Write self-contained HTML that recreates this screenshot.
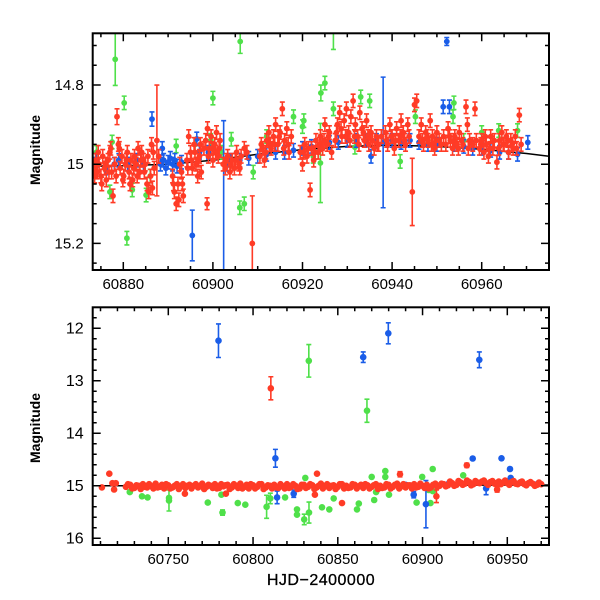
<!DOCTYPE html>
<html><head><meta charset="utf-8">
<style>
html,body{margin:0;padding:0;background:#fff;}
svg{display:block;}
text{font-family:"Liberation Sans",sans-serif;fill:#000;}
</style></head>
<body>
<svg id="chart" width="600" height="600" viewBox="0 0 600 600">
<defs>
<clipPath id="clipTop"><rect x="92.7" y="33.3" width="456.3" height="236.7"/></clipPath>
<clipPath id="clipBot"><rect x="92.7" y="307.3" width="456.3" height="237.7"/></clipPath>
</defs>
<g id="top"></g>
<g id="bot"></g>
<text x="40" y="150" transform="rotate(-90 40 150)" text-anchor="middle" font-size="14" font-weight="bold">Magnitude</text>
<text x="40" y="428" transform="rotate(-90 40 428)" text-anchor="middle" font-size="14" font-weight="bold">Magnitude</text>
<text x="321" y="585" text-anchor="middle" font-size="16" letter-spacing="0.5" stroke="#000" stroke-width="0.3">HJD−2400000</text>
</svg>
<script>
// ---------- DATA: top panel (zoom) ----------
const topRed = [[60873.4,15.01],[60873.8,14.99],[60874.2,15.02],[60874.6,15.0],[60875,15.03],[60875.4,14.98],[60875.8,15.01],[60876.2,15.04],[60876.6,14.99],[60877,14.97],[60877.4,15.02],[60877.7,15.08],[60878.1,15.0],[60878.6,14.88,0.02],[60878.9,14.95],[60879.3,15.01],[60879.7,14.98],[60880.1,15.03],[60880.5,15.0],[60880.9,14.97],[60881.3,15.02],[60881.7,14.99],[60882.1,15.04],[60882.5,14.98],[60882.9,15.0],[60883.3,14.96],[60883.7,15.02],[60884.1,14.97],[60884.5,14.99],[60884.9,15.0],[60885.3,15.05],[60885.7,15.07],[60886.1,15.03],[60886.5,15.06],[60886.9,15.01],[60887.5,14.94,0.14],[60887.9,14.98],
[60891,15.03],[60891.4,15.07],[60891.8,15.1],[60892.2,15.05],[60892.6,15.0],[60893,15.02],[60893.4,15.08],[60894.2,14.99],[60894.6,14.93],[60895,14.97],[60895.4,15.01],[60895.8,14.95],[60896.2,15.0],[60896.6,15.03],[60897,14.98],[60897.4,15.02],[60898,14.96],[60898.7,15.10,0.015],
[60898.4,14.94],[60898.8,14.91],[60899.2,14.96],[60899.6,14.93],[60900,14.99],[60900.4,14.95],[60900.8,14.92],[60901.2,14.98],[60901.6,14.94],
[60902.3,15.0],[60902.8,15.01],[60903.3,14.98],[60903.8,15.02],[60904.3,14.99],[60904.8,15.01],[60905.3,14.97],[60905.8,15.0],[60906.3,14.98],[60907,14.96],[60907.6,14.97],[60908.8,15.2,0.12],
[60910.5,14.98],[60911,14.96],[60911.5,14.99],[60912,14.94],[60912.5,14.92],[60913,14.96],[60913.5,14.93],[60914,14.9],[60914.5,14.95],[60915,14.92],[60915.5,14.86],[60916,14.94],[60916.5,14.91],[60917,14.97],[60917.5,14.93],
[60919.5,14.97],[60920,15.0],[60920.5,14.95],[60921,14.98],[60921.7,15.065],[60922,14.96],[60922.5,14.99],[60923,14.94],[60923.5,14.97],[60924,14.93],[60924.5,14.96],[60925,14.9],[60925.5,14.95],[60926,14.92],[60926.5,14.97],
[60927.3,14.94],[60927.8,14.9],[60928.3,14.87],[60928.8,14.93],[60929.3,14.89],[60929.8,14.86],[60930.3,14.92],[60930.8,14.88],[60931.3,14.84],[60931.8,14.9],[60932.3,14.93],[60932.8,14.87],[60933.3,14.91],[60933.8,14.94],[60934.3,14.89],[60934.8,14.95],[60935.3,14.92],[60936,14.96],[60936.5,14.93],[60937,14.95],
[60938.5,14.92],[60939,14.95],[60939.5,14.9],[60940,14.93],[60940.5,14.96],[60941,14.91],[60941.5,14.94],[60942,14.89],[60942.5,14.92],[60943,14.95],[60943.5,14.9],[60944.5,15.07,0.085],[60945,14.85],[60945.5,14.84],[60946,14.93],[60946.5,14.9],[60947,14.95],[60947.5,14.92],[60948,14.94],[60948.5,14.89],[60949,14.93],[60949.5,14.96],[60950,14.92],[60950.5,14.94],
[60951.5,14.93],[60952,14.95],[60952.5,14.91],[60953,14.94],[60953.5,14.96],[60954,14.93],[60954.5,14.95],[60955,14.92],[60955.5,14.94],[60956.5,14.855],[60956.8,14.9],[60957.3,14.94],[60958,14.95],[60958.5,14.86],
[60959.5,14.96],[60960,14.94],[60960.5,14.97],[60961,14.95],[60961.5,14.98],[60962,14.93],[60962.5,14.96],[60963.4,14.995],[60964,14.94],[60964.5,14.92],[60965,14.95],[60965.5,14.93],[60966,14.97],[60966.5,14.94],[60967,14.96],[60967.5,14.93],[60968.4,14.876],[60968.8,14.95]];
const topRedExtra = [[60873.6,15.03],[60874.4,14.97],[60875.2,15.05],[60876,15.0],[60876.8,15.02],[60877.2,14.96],[60878.4,15.03],[60879.1,14.96],[60879.9,15.04],[60880.7,14.99],[60881.5,15.05],[60882.3,15.01],[60883.1,15.03],[60883.9,14.99],[60884.7,15.02],[60885.5,14.98],[60886.3,14.95],[60886.7,14.97],
[60891.2,15.05],[60892.4,15.09],[60893.2,15.05],[60894.4,15.01],[60895.2,14.99],[60896,14.97],[60896.8,14.99],[60897.2,14.95],[60899,14.98],[60899.8,14.96],[60900.6,14.97],[60901.4,14.96],[60903,14.99],[60904,15.0],[60905,14.99],[60906,15.01],
[60910.8,14.95],[60911.8,14.97],[60912.8,14.95],[60913.8,14.95],[60914.8,14.93],[60915.8,14.96],[60916.8,14.95],[60920.2,14.97],[60921.3,14.96],[60922.8,14.97],[60923.8,14.95],[60924.8,14.94],[60925.8,14.93],
[60927.6,14.92],[60928.6,14.91],[60929.6,14.93],[60930.6,14.94],[60931.6,14.93],[60932.6,14.95],[60933.6,14.92],[60934.6,14.93],[60935.6,14.94],[60936.8,14.95],[60937.6,14.93],[60938.8,14.94],[60939.8,14.93],[60940.8,14.94],[60941.8,14.93],[60942.8,14.94],[60943.8,14.93],
[60946.8,14.94],[60947.8,14.93],[60948.8,14.95],[60949.8,14.94],[60951,14.95],[60952.8,14.93],[60953.8,14.94],[60954.8,14.96],[60955.8,14.95],[60957,14.96],[60958.8,14.94],[60959.8,14.95],[60960.8,14.93],[60961.8,14.96],[60962.8,14.94],[60963.8,14.96],[60964.8,14.95],[60965.8,14.94],[60966.8,14.95],[60967.8,14.96]];
const topBlue = [[60873.3,15.0],[60874,14.99],[60876,15.01],[60878,15.0],[60879,14.99],[60881,15.0],[60883,14.99],[60884.5,15.0],[60886.4,14.886,0.018],[60888.7,14.96],[60888.3,15.0],[60889,14.99],[60889.5,15.01],[60890,14.995],[60890.5,14.985],[60891,15.0],[60891.5,14.99],[60892,15.005],[60893,14.995],[60895.4,15.18,0.064],[60896.4,14.936],[60897,14.97],[60899,14.97],[60902.4,15.32,0.43],[60903,15.0],[60904,14.99],[60906,14.99],[60908,14.985],[60910,14.98],[60912,14.975],[60914,14.97],[60916,14.97],[60918,14.965],[60920,14.96],[60922,14.955],[60924,14.95],[60926,14.945],[60928,14.945],[60930,14.94],[60932,14.94],[60934,14.94],[60935.3,14.98],[60936.5,14.94],[60938,14.945,0.165],[60940,14.94],[60942,14.945],[60944,14.94],[60946,14.945],[60948,14.95],[60950,14.95],[60951.4,14.855],[60952.2,14.69,0.01],[60952.8,14.855],[60954,14.95],[60956,14.955],[60958,14.96],[60960,14.96],[60962,14.965],[60964,14.97],[60966,14.97],[60968,14.975],[60970.3,14.945]];
const topGreen = [[60874,14.97],[60877,15.07],[60877.5,14.944],[60878.2,14.735,0.066],[60880.2,14.845],[60880.8,15.187],[60882,15.065],[60885.1,15.078],[60886,15.03],[60891.8,14.954],[60896,14.95],[60899.5,14.94],[60900,14.833],[60902,14.97],[60904.1,14.937],[60906.1,14.69,0.03],[60906,15.11],[60907,15.1],[60909,15.02],[60912,14.93],[60918,14.88],[60920,14.905],[60920.3,14.89],[60922.4,14.98],[60924,14.997,0.1],[60924.1,14.82,0.02],[60925,14.795],[60926.9,14.655,0.055],[60926.9,14.86],[60931.7,14.957],[60933,14.83],[60935,14.84],[60941.8,14.993],[60945.2,14.88],[60948,14.94],[60953.6,14.88],[60953.8,14.845],[60956,14.94],[60960,14.92],[60963.8,14.915],[60968,14.915]];
const topLineT = [60873,60880,60890,60900,60910,60920,60930,60940,60950,60960,60970,60975];
const topLineM = [15.005,15.004,15.0,14.99,14.975,14.963,14.955,14.952,14.955,14.962,14.973,14.98];
const topXTicks = [60880,60900,60920,60940,60960];
const topXTickLabels = ["60880","60900","60920","60940","60960"];
const topYTicks = [14.8,15,15.2];
const topYTickLabels = ["14.8","15","15.2"];

// ---------- DATA: bottom panel (full season) ----------
const botBandT = [60725,60727.5,60730,60732.5,60735,60737.5,60740,60742.5,60745,60747.5,60750,60752.5,60755,60757.5,60760,60762.5,60765,60767.5,60770,60772.5,60775,60777.5,60780,60782.5,60785,60787.5,60790,60792.5,60795,60797.5,60800,60802.5,60805,60807.5,60810,60812.5,60815,60817.5,60820,60822.5,60825,60827.5,60830,60832.5,60835,60837.5,60840,60842.5,60845,60847.5,60850,60852.5,60855,60857.5,60860,60862.5,60865,60867.5,60870,60872.5,60875,60877.5,60880,60882.5,60885,60887.5,60890,60892.5,60895,60897.5,60900,60902.5,60905,60907.5,60910,60912.5,60915,60917.5,60920,60922.5,60925,60927.5,60930,60932.5,60935,60937.5,60940,60942.5,60945,60947.5,60950,60952.5,60955,60957.5,60960,60962.5,60965,60967.5,60970];
const botBandM = [15.02,14.98,15.04,15.0,14.97,15.03,15.01,14.96,15.02,15.05,14.99,15.03,14.97,15.01,15.04,14.98,15.0,15.03,14.96,15.02,15.0,14.97,15.04,15.01,14.98,15.03,15.0,14.96,15.02,15.05,14.99,15.02,14.97,15.03,15.0,14.98,15.04,15.01,14.97,15.02,15.0,15.05,14.98,15.02,14.99,15.03,14.96,15.01,15.04,14.99,15.02,14.97,15.0,15.03,14.98,15.01,15.04,14.99,15.02,14.97,15.0,15.03,14.98,15.02,14.96,15.01,15.03,14.99,14.97,15.02,15.0,14.98,15.03,14.96,15.0,14.97,14.99,14.95,14.98,14.94,14.96,14.93,14.97,14.94,14.92,14.95,14.93,14.96,14.92,14.94,14.95,14.93,14.96,14.94,14.97,14.95,14.96,14.98,14.97];
const botBand2T = [60726.2,60728.7,60731.2,60733.7,60736.2,60738.7,60741.2,60743.7,60746.2,60748.7,60751.2,60753.7,60756.2,60758.7,60761.2,60763.7,60766.2,60768.7,60771.2,60773.7,60776.2,60778.7,60781.2,60783.7,60786.2,60788.7,60791.2,60793.7,60796.2,60798.7,60801.2,60803.7,60806.2,60808.7,60811.2,60813.7,60816.2,60818.7,60821.2,60823.7,60826.2,60828.7,60831.2,60833.7,60836.2,60838.7,60841.2,60843.7,60846.2,60848.7,60851.2,60853.7,60856.2,60858.7,60861.2,60863.7,60866.2,60868.7,60871.2,60873.7,60876.2,60878.7,60881.2,60883.7,60886.2,60888.7,60891.2,60893.7,60896.2,60898.7,60901.2,60903.7,60906.2,60908.7,60911.2,60913.7,60916.2,60918.7,60921.2,60923.7,60926.2,60928.7,60931.2,60933.7,60936.2,60938.7,60941.2,60943.7,60946.2,60948.7,60951.2,60953.7,60956.2,60958.7,60961.2,60963.7,60966.2,60968.7];
const botBand2M = [14.97,15.05,14.99,15.06,15.02,14.97,15.05,15.03,14.98,14.97,15.05,15.0,15.06,14.97,15.0,15.05,14.97,15.01,15.06,14.98,15.04,15.05,14.97,14.99,15.06,14.97,15.04,15.05,14.98,14.97,15.05,14.97,15.06,14.99,15.05,15.03,14.97,15.05,15.04,14.97,15.06,14.98,15.04,14.97,15.06,15.0,15.05,14.97,15.0,15.06,14.97,15.05,15.04,14.97,15.05,14.98,14.97,15.05,14.99,15.06,15.04,14.97,15.05,14.98,15.05,14.97,14.99,15.05,15.03,14.96,15.04,15.05,14.98,15.02,14.96,15.01,14.92,15.0,14.91,14.98,14.9,14.99,14.91,14.95,14.9,14.98,14.91,14.95,14.97,14.9,14.98,14.91,14.97,14.92,14.99,14.93,15.0,14.94];
const botRed = [[60810.5,13.143,0.22],[60926.1,14.61,0.04],[60908.2,15.2,0.12],[60944,15.07,0.05],[60836.5,15.17],[60852.5,15.33],[60784,15.15],[60759.8,15.15],[60715.2,14.77],[60710.8,15.03],[60717,14.95],[60719,14.95],[60718,15.07],[60837.7,14.77],[60886.7,14.78,0.05]];
const botBlue = [[60779.6,12.236,0.32],[60865,12.55,0.1],[60879.8,12.095,0.2],[60933.5,12.6,0.15],[60813.2,14.476,0.17],[60929.6,14.48],[60946.6,14.476],[60951.6,14.68],[60902,15.35,0.45],[60894.8,15.17,0.06],[60814.2,15.22,0.12],[60824,15.15,0.07],[60937.5,15.05,0.12],[60890,14.98],[60893,15.0],[60915,14.97],[60952,14.85],[60958,14.93],[60968,14.96]];
const botGreen = [[60832.9,12.62,0.31],[60867.2,13.57,0.22],[60906,14.68],[60727.3,15.12],[60734.5,15.2],[60737.8,15.22],[60750.4,15.28,0.2],[60750.4,15.23],[60773.3,15.32],[60782,15.51,0.05],[60781.3,15.17],[60791,15.33],[60795.4,15.36],[60808,15.4,0.22],[60810.2,15.24,0.1],[60818.9,15.22],[60825.9,15.45],[60825.9,15.55],[60830.2,15.64,0.1],[60833,15.51,0.2],[60840.7,15.41],[60845,15.45],[60847.6,15.24],[60861.3,15.45],[60862.4,15.34],[60871.5,15.27],[60880.2,15.17],[60896.5,15.32],[60899.8,14.83],[60903.7,15.08],[60906,15.1],[60904.7,15.33],[60878,14.72],[60878,14.83],[60870,14.83],[60830.8,14.85],[60924,14.8],[60872.6,15.12]];
const botLineT = [60705,60975];
const botLineM = [15.0,14.985];
const botXTicks = [60750,60800,60850,60900,60950];
const botXTickLabels = ["60750","60800","60850","60900","60950"];
const botYTicks = [12,13,14,15,16];
const botYTickLabels = ["12","13","14","15","16"];

// ---------- drawing ----------
const NS = "http://www.w3.org/2000/svg";
const COL = {red:"#ff3b26", blue:"#1a5de8", green:"#4fe04a"};
function mk(tag, attrs, parent){
  const el = document.createElementNS(NS, tag);
  for (const k in attrs) el.setAttribute(k, attrs[k]);
  parent.appendChild(el);
  return el;
}
function panel(g, cfg){
  const L=92.7, R=549, T=cfg.top, B=cfg.bottom;
  const X = t => cfg.x0 + (t - cfg.t0) * cfg.sx;
  const Y = m => cfg.y0 + (m - cfg.m0) * cfg.sy;
  const data = mk("g", {"clip-path":"url(#"+cfg.clip+")"}, g);
  
  
  let d = "";
  cfg.lineT.forEach((t,i)=>{ d += (i?"L":"M") + X(t).toFixed(1) + "," + Y(cfg.lineM[i]).toFixed(1); });
  const ln = mk("path", {d:d, fill:"none", stroke:"#000", "stroke-width":1.5}, data);
  
  
  function series(arr, col, nm, defErr){
    const sg = mk("g", {}, data);
    
    
    arr.forEach(p=>{
      const x = X(p[0]), y = Y(p[1]);
      const e = p.length > 2 ? p[2] : defErr;
      if (e > 0){
        const y1 = Y(p[1]-e), y2 = Y(p[1]+e);
        mk("path", {d:`M${x},${y1}V${y2}M${x-2.5},${y1}H${x+2.5}M${x-2.5},${y2}H${x+2.5}`, stroke:col, "stroke-width":1.6, fill:"none"}, sg);
      }
      const c = mk("circle", {cx:x.toFixed(1), cy:y.toFixed(1), r:cfg.r, fill:col}, sg);
      
      
    });
  }
  series(cfg.green, COL.green, cfg.name+"-green-series", cfg.defErr);
  series(cfg.blue, COL.blue, cfg.name+"-blue-series", cfg.defErr);
  if (cfg.bandT){
    series(cfg.bandT.map((t,i)=>[t, cfg.bandM[i], 0]), COL.red, cfg.name+"-red-band", 0);
    series(cfg.band2T.map((t,i)=>[t, cfg.band2M[i], 0]), COL.red, cfg.name+"-red-band-2", 0);
  }
  if (cfg.redExtra) series(cfg.redExtra, COL.red, cfg.name+"-red-series-extra", cfg.defErr);
  series(cfg.red, COL.red, cfg.name+"-red-series", cfg.defErr);
  const fr = mk("rect", {x:L, y:T, width:R-L, height:B-T, fill:"none", stroke:"#000", "stroke-width":2}, g);
  
  
  let td = "";
  for (let t = cfg.xMinorStart; t <= cfg.tMax; t += cfg.xMinor){
    const x = X(t); if (x < L+1 || x > R-1) continue;
    const major = Math.abs(((t - cfg.xTicks[0]) % cfg.xMajor + cfg.xMajor) % cfg.xMajor) < 1e-6;
    const len = major ? 8 : 4;
    td += `M${x},${B}v${-len}M${x},${T}v${len}`;
  }
  for (let k = 0; k <= cfg.yMinorN; k++){
    const m = cfg.yMinorStart + k*cfg.yMinor;
    const y = Y(m); if (y < T+1 || y > B-1) continue;
    const rel = (m - cfg.yTicks[0]) / cfg.yMajor;
    const major = Math.abs(rel - Math.round(rel)) < 1e-6;
    const len = major ? 8 : 4;
    td += `M${L},${y}h${len}M${R},${y}h${-len}`;
  }
  const tk = mk("path", {d:td, stroke:"#000", "stroke-width":1.5, fill:"none"}, g);
  
  
  cfg.xTicks.forEach((t,i)=>{
    const tx = mk("text", {x:X(t), y:B+19, "text-anchor":"middle", "font-size":15}, g);
    tx.textContent = cfg.xLabels[i];
    
    
  });
  cfg.yTicks.forEach((m,i)=>{
    const tx = mk("text", {x:L-9, y:Y(m)+5, "text-anchor":"end", "font-size":cfg.yFont}, g);
    tx.textContent = cfg.yLabels[i];
    
    
  });
}
panel(document.getElementById("top"), {
  name:"top", clip:"clipTop", top:33.3, bottom:270,
  x0:123.3, t0:60880, sx:4.48, y0:164.2, m0:15, sy:395.8, r:2.9, defErr:0.017, yFont:15,
  lineT:topLineT, lineM:topLineM, red:topRed, redExtra:topRedExtra, blue:topBlue, green:topGreen,
  xTicks:topXTicks, xLabels:topXTickLabels, xMajor:20, xMinor:5, xMinorStart:60870, tMax:60980,
  yTicks:topYTicks, yLabels:topYTickLabels, yMajor:0.2, yMinor:0.05, yMinorStart:14.6, yMinorN:14
});
panel(document.getElementById("bot"), {
  name:"bottom", clip:"clipBot", top:307.3, bottom:545,
  x0:168.3, t0:60750, sx:1.695, y0:485.8, m0:15, sy:52.5, r:3.3, defErr:0, yFont:16,
  lineT:botLineT, lineM:botLineM, red:botRed, blue:botBlue, green:botGreen,
  bandT:botBandT, bandM:botBandM, band2T:botBand2T, band2M:botBand2M,
  xTicks:botXTicks, xLabels:botXTickLabels, xMajor:50, xMinor:10, xMinorStart:60700, tMax:60980,
  yTicks:botYTicks, yLabels:botYTickLabels, yMajor:1, yMinor:0.2, yMinorStart:11.6, yMinorN:23
});
</script>
</body></html>
